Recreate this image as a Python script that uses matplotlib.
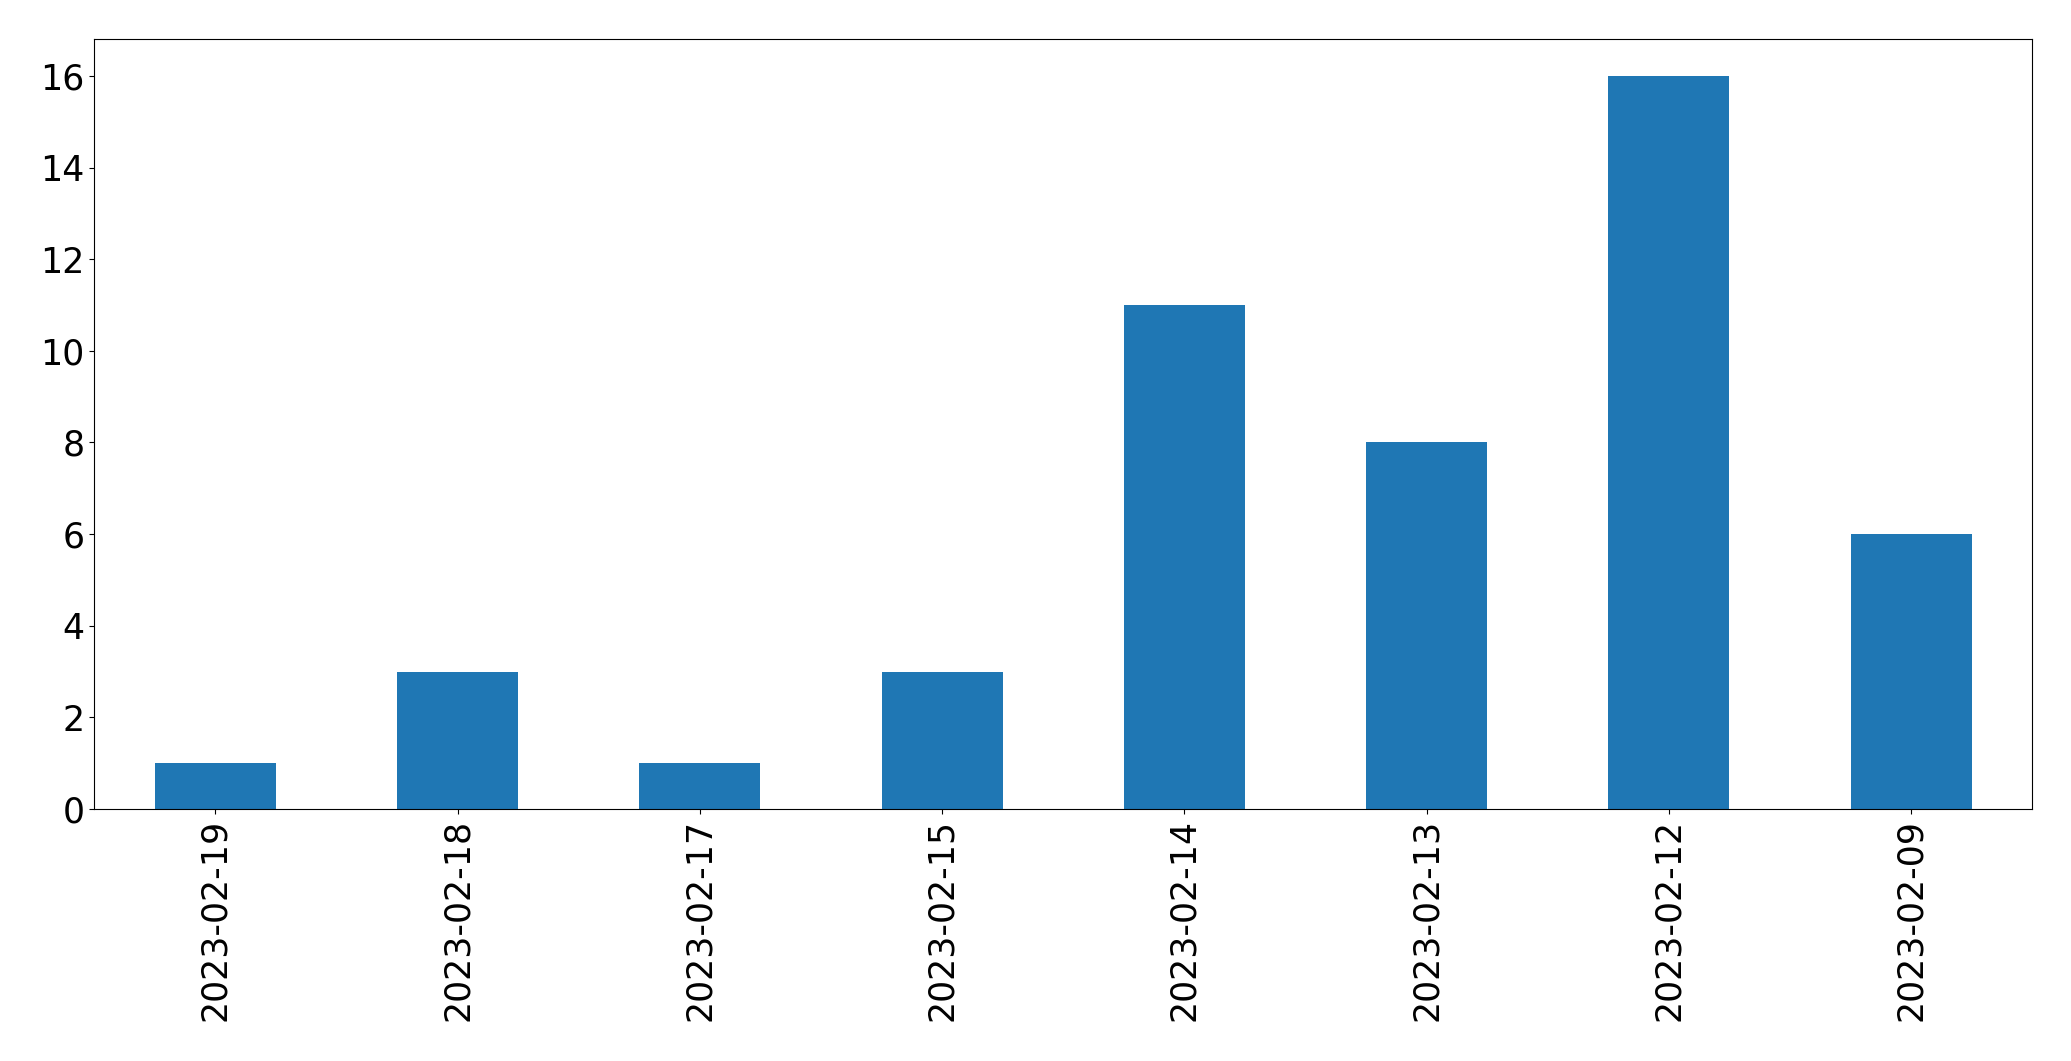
import matplotlib
matplotlib.use("Agg")
import matplotlib.pyplot as plt

# dates as shown on the x axis (newest first)
dates = ["2023-02-19", "2023-02-18", "2023-02-17", "2023-02-15",
         "2023-02-14", "2023-02-13", "2023-02-12", "2023-02-09"]
counts = [1, 3, 1, 3, 11, 8, 16, 6]

fig = plt.figure(figsize=(20.71, 10.61), dpi=100)
ax = fig.add_axes([0.0455, 0.2375, 0.9358, 0.7255])

x = range(len(dates))
ax.bar(x, counts, width=0.5, color="#1f77b4")
ax.set_xlim(-0.5, len(dates) - 0.5)
ax.set_xticks(list(x))
ax.set_xticklabels(dates, rotation=90)
ax.tick_params(labelsize=25)

fig.savefig("out.png", dpi=100)
